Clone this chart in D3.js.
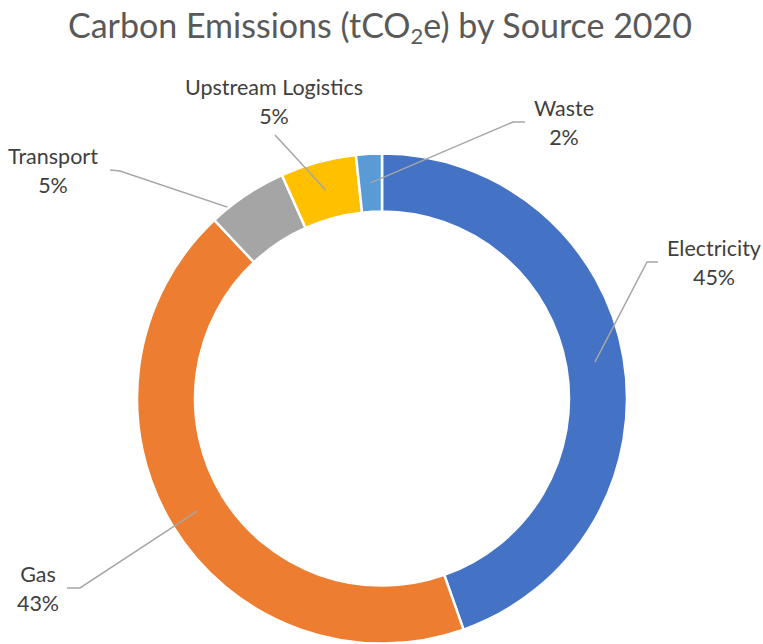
<!DOCTYPE html>
<html>
<head>
<meta charset="utf-8">
<script src="https://cdn.jsdelivr.net/npm/d3@7"></script>
<style>
  body { margin: 0; background: #fff; }
  text { font-family: Lato, "Open Sans", sans-serif; }
</style>
</head>
<body>
<svg id="chart" width="763" height="644"></svg>
<script>
'use strict';

// data (share of total, %)
const sources = ['Electricity', 'Gas', 'Transport', 'Upstream Logistics', 'Waste'];
const shares = [44.6, 43.4, 5.3, 5.0, 1.7];
const colors = ['#4472C4', '#ED7D31', '#A5A5A5', '#FFC000', '#5B9BD5'];

// label layout: text centre, first baseline, leader start + elbow
const labelLayout = [
    {x: 714, y: 256, sx: 658, sy: 262, ex: 647, ey: 262},
    {x: 38, y: 582, sx: 67, sy: 588, ex: 80, ey: 588},
    {x: 53, y: 164, sx: 110, sy: 170, ex: 120, ey: 171, under: true},
    {x: 274, y: 95, sx: 275, sy: 135, ex: 275, ey: 135},
    {x: 564, y: 116, sx: 525, sy: 122, ex: 513, ey: 122}
]

let cx = 382
let cy = 398.6
let outerR = 245
let innerR = 187
let lineGap = 29

let svg = d3.select('#chart')

let title = svg.append('text')
    .attr('x', 380)
    .attr('y', 38)
    .attr('text-anchor', 'middle')
    .attr('fill', '#595959')
    .attr('font-size', 34)
title.append('tspan').text('Carbon Emissions (tCO')
title.append('tspan').text('2').attr('font-size', 22).attr('dy', 6)
title.append('tspan').text('e) by Source 2020').attr('dy', -6)

let data = sources.map((s, i) => ({name: s, value: shares[i], color: colors[i], lab: labelLayout[i]}))
let total = d3.sum(shares)

let pie = d3.pie()
    .sort(null)
    .value(d => d.value)

let arc = d3.arc()
    .innerRadius(innerR)
    .outerRadius(outerR)

let g = svg.append('g')
    .attr('transform', 'translate(' + cx + ',' + cy + ')')

let arcs = pie(data)

let leader = function(sel) {
    sel.attr('fill', 'none')
        .attr('stroke', '#A6A6A6')
        .attr('stroke-width', 1.5)
        .attr('d', d => {
            let c = arc.centroid(d)
            let l = d.data.lab
            return 'M' + (l.sx - cx) + ',' + (l.sy - cy) +
                'L' + (l.ex - cx) + ',' + (l.ey - cy) +
                'L' + c[0] + ',' + c[1]
        })
}

// transport's leader stops at the slice edge, so it sits under the ring
g.selectAll('path.leader-under')
    .data(arcs.filter(d => d.data.lab.under))
    .enter().append('path')
    .attr('class', 'leader-under')
    .call(leader)

g.selectAll('path.slice')
    .data(arcs)
    .enter().append('path')
    .attr('class', 'slice')
    .attr('d', arc)
    .attr('fill', d => d.data.color)
    .attr('stroke', '#fff')
    .attr('stroke-width', 2.5)

g.selectAll('path.leader')
    .data(arcs.filter(d => !d.data.lab.under))
    .enter().append('path')
    .attr('class', 'leader')
    .call(leader)

let labels = svg.selectAll('text.label')
    .data(arcs)
    .enter().append('text')
    .attr('class', 'label')
    .attr('text-anchor', 'middle')
    .attr('fill', '#404040')
    .attr('font-size', 21.5)

labels.append('tspan')
    .attr('x', d => d.data.lab.x)
    .attr('y', d => d.data.lab.y)
    .text(d => d.data.name)

labels.append('tspan')
    .attr('x', d => d.data.lab.x)
    .attr('y', d => d.data.lab.y + lineGap)
    .text(d => Math.round(d.data.value / total * 100) + '%')
</script>
</body>
</html>
